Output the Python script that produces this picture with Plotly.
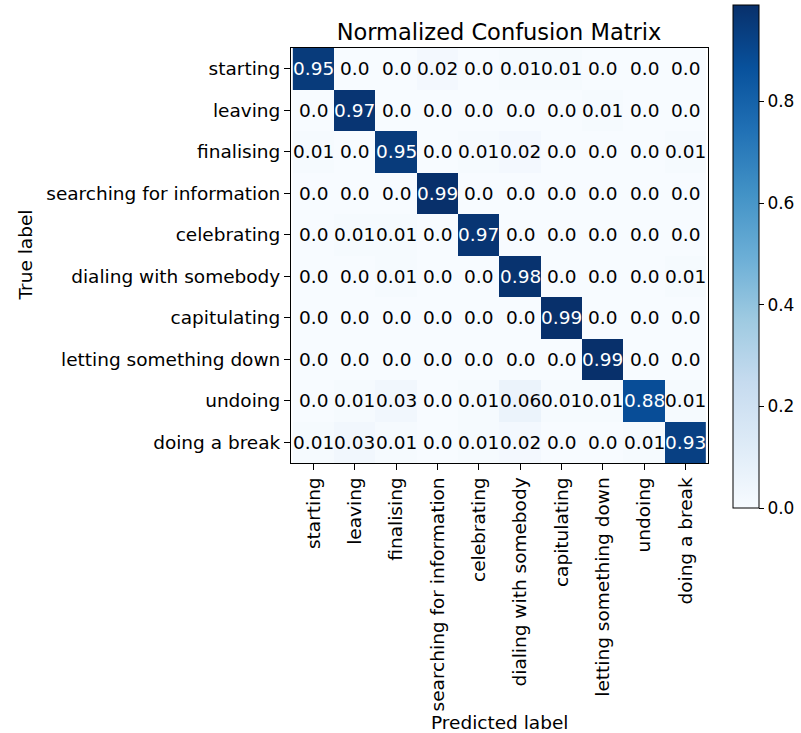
import plotly.graph_objects as go
import plotly.express as px

labels = ["starting", "leaving", "finalising", "searching for information", "celebrating",
          "dialing with somebody", "capitulating", "letting something down", "undoing", "doing a break"]

row_starting = [0.95, 0.0, 0.0, 0.02, 0.0, 0.01, 0.01, 0.0, 0.0, 0.0]
row_leaving = [0.0, 0.97, 0.0, 0.0, 0.0, 0.0, 0.0, 0.01, 0.0, 0.0]
row_finalising = [0.01, 0.0, 0.95, 0.0, 0.01, 0.02, 0.0, 0.0, 0.0, 0.01]
row_searching = [0.0, 0.0, 0.0, 0.99, 0.0, 0.0, 0.0, 0.0, 0.0, 0.0]
row_celebrating = [0.0, 0.01, 0.01, 0.0, 0.97, 0.0, 0.0, 0.0, 0.0, 0.0]
row_dialing = [0.0, 0.0, 0.01, 0.0, 0.0, 0.98, 0.0, 0.0, 0.0, 0.01]
row_capitulating = [0.0, 0.0, 0.0, 0.0, 0.0, 0.0, 0.99, 0.0, 0.0, 0.0]
row_letting = [0.0, 0.0, 0.0, 0.0, 0.0, 0.0, 0.0, 0.99, 0.0, 0.0]
row_undoing = [0.0, 0.01, 0.03, 0.0, 0.01, 0.06, 0.01, 0.01, 0.88, 0.01]
row_break = [0.01, 0.03, 0.01, 0.0, 0.01, 0.02, 0.0, 0.0, 0.01, 0.93]

matrix = [row_starting, row_leaving, row_finalising, row_searching, row_celebrating,
          row_dialing, row_capitulating, row_letting, row_undoing, row_break]

colorbar_ticks = [0.0, 0.2, 0.4, 0.6, 0.8]

FONT = "DejaVu Sans"
FS = 18.5

W, H = 801, 733
L, R, T, B = 291, 708, 48, 463
PW, PH = R - L, B - T

zmax = max(max(r) for r in matrix)
thresh = zmax / 2.0

cb_top, cb_bot = 5, 508

fig = go.Figure()
fig.add_trace(go.Heatmap(
    z=matrix, x=labels, y=labels,
    colorscale=px.colors.sequential.Blues,
    zmin=0, zmax=zmax,
    hoverinfo="skip",
    colorbar=dict(
        x=(733 - L) / PW, xanchor="left", xref="paper",
        y=(B - (cb_top + cb_bot) / 2) / PH, yanchor="middle",
        len=(cb_bot - cb_top) / PH, lenmode="fraction",
        thickness=26, xpad=0, ypad=0,
        outlinecolor="black", outlinewidth=1,
        tickvals=colorbar_ticks, ticktext=[f"{t:.1f}" for t in colorbar_ticks],
        ticks="outside", ticklen=5, tickcolor="black",
        tickfont=dict(family=FONT, size=17, color="black"),
    ),
))

annotations = []
for i, row in enumerate(matrix):
    for j, v in enumerate(row):
        annotations.append(dict(
            x=labels[j], y=labels[i], xref="x", yref="y",
            text=f"{v}", showarrow=False,
            font=dict(family=FONT, size=FS, color="white" if v > thresh else "black"),
        ))

annotations.append(dict(text="True label", x=(25 - L) / PW, y=0.5, xref="paper", yref="paper",
                        xanchor="center", yanchor="middle",
                        showarrow=False, textangle=-90,
                        font=dict(family=FONT, size=FS, color="black")))
annotations.append(dict(text="Predicted label", x=0.5, y=(B - 722) / PH, xref="paper", yref="paper",
                        xanchor="center", yanchor="middle",
                        showarrow=False,
                        font=dict(family=FONT, size=FS, color="black")))

fig.update_layout(
    width=W, height=H,
    margin=dict(l=L, r=W - R, t=T, b=H - B, autoexpand=False),
    paper_bgcolor="white", plot_bgcolor="white",
    font=dict(family=FONT, size=FS, color="black"),
    title=dict(text="Normalized Confusion Matrix", x=499 / W, xanchor="center",
               y=1 - 32 / H, yanchor="middle",
               font=dict(family=FONT, size=22.5, color="black")),
    annotations=annotations,
)
fig.update_xaxes(showline=True, mirror=True, linecolor="black", linewidth=1,
                 ticks="outside", ticklen=6, tickcolor="black", tickangle=-90,
                 automargin=False,
                 tickfont=dict(family=FONT, size=FS, color="black"), showgrid=False, zeroline=False)
fig.update_yaxes(showline=True, mirror=True, linecolor="black", linewidth=1,
                 ticks="outside", ticklen=6, tickcolor="black", autorange="reversed",
                 automargin=False,
                 tickfont=dict(family=FONT, size=FS, color="black"), showgrid=False, zeroline=False)

fig.write_html("out.html", config={"displayModeBar": False},
               post_script="document.body.style.margin='0';document.documentElement.style.overflow='hidden';")
